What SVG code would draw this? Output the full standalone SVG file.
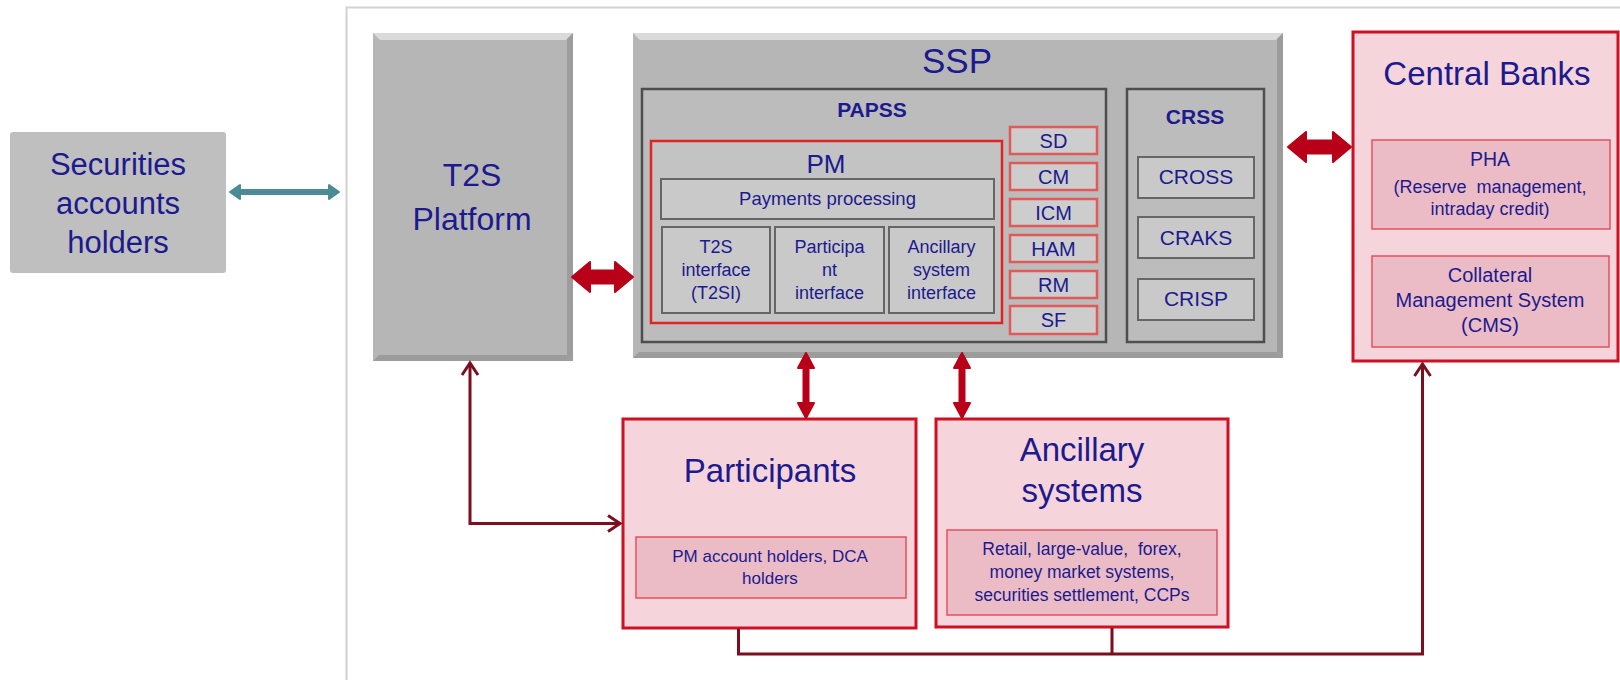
<svg xmlns="http://www.w3.org/2000/svg" width="1620" height="680" viewBox="0 0 1620 680">
<style>
  text { font-family: "Liberation Sans", Arial, sans-serif; fill: #1c1a8e; text-anchor: middle; }
  .b { font-weight: bold; }
  .pre { white-space: pre; }
  .gray { fill: #b6b6b6; }
  .hl { fill: #dadada; }
  .sh { fill: #9c9c9c; }
  .area { fill: #bcbcbc; stroke: #4e4e4e; stroke-width: 2.5; }
  .sub { fill: #c9c9c9; stroke: #666666; stroke-width: 2; }
  .pmbox { fill: #c3c3c3; stroke: #e42222; stroke-width: 2.5; }
  .mod { fill: #cdcdcd; stroke: #e05a5a; stroke-width: 2.5; }
  .pink { fill: #f5d5db; stroke: #cf0f22; stroke-width: 3; }
  .pinkin { fill: #ebbcc6; stroke: #e4505e; stroke-width: 1.5; }
  .conn { fill: none; stroke: #7a0f1f; stroke-width: 3; }
  .block { fill: #b80018; stroke: #b80018; stroke-width: 2; stroke-linejoin: round; }
  .teal { fill: #4a8b96; stroke: #4a8b96; stroke-width: 2; stroke-linejoin: round; }
</style>
<defs>
  <marker id="chev" viewBox="0 0 20 20" markerWidth="20" markerHeight="20" refX="17" refY="10" orient="auto-start-reverse" markerUnits="userSpaceOnUse">
    <path d="M5,2 L17,10 L5,18" fill="none" stroke="#7a0f1f" stroke-width="3"/>
  </marker>
</defs>

<rect x="0" y="0" width="1620" height="680" fill="#ffffff"/>
<!-- picture frame -->
<rect x="346.5" y="7.5" width="1300" height="700" fill="#ffffff" stroke="#d2d2d2" stroke-width="2"/>

<g id="securities">
  <rect x="10" y="132" width="216" height="141" rx="3" fill="#bfbfbf"/>
  <text x="118" y="175" font-size="31" fill="#1f1a9e">Securities</text>
  <text x="118" y="214" font-size="31" fill="#1f1a9e">accounts</text>
  <text x="118" y="253" font-size="31" fill="#1f1a9e">holders</text>
</g>

<g id="t2s">
  <rect class="gray" x="373" y="33" width="200" height="328"/>
  <polygon class="hl" points="373,33 573,33 566,40 380,40"/>
  <polygon class="sh" points="573,33 573,361 567,355 567,39"/>
  <polygon class="sh" points="373,361 573,361 567,355 379,355"/>
  <text x="472" y="186" font-size="32">T2S</text>
  <text x="472" y="230" font-size="32">Platform</text>
</g>

<g id="ssp">
  <rect class="gray" x="633" y="33" width="650" height="325"/>
  <polygon class="hl" points="633,33 1283,33 1276,40 640,40"/>
  <polygon class="sh" points="1283,33 1283,358 1277,352 1277,39"/>
  <polygon class="sh" points="633,358 1283,358 1277,352 639,352"/>
  <text x="957" y="73" font-size="35">SSP</text>
</g>

<g id="papss">
  <rect class="area" x="642" y="89" width="464" height="253"/>
  <text class="b" x="872" y="117" font-size="21">PAPSS</text>
</g>

<g id="pm">
  <rect class="pmbox" x="651" y="141" width="351" height="182"/>
  <text x="826" y="173" font-size="26">PM</text>
</g>

<g id="payments-processing">
  <rect class="sub" x="661" y="179" width="333" height="40"/>
  <text x="827.5" y="205" font-size="18.5">Payments processing</text>
</g>

<g id="t2si">
  <rect class="sub" x="662" y="227" width="108" height="86"/>
  <text x="716" y="253" font-size="18">T2S</text>
  <text x="716" y="276" font-size="18">interface</text>
  <text x="716" y="298.5" font-size="18">(T2SI)</text>
</g>

<g id="participant-interface">
  <rect class="sub" x="775" y="227" width="109" height="86"/>
  <text x="829.5" y="253" font-size="18">Participa</text>
  <text x="829.5" y="276" font-size="18">nt</text>
  <text x="829.5" y="298.5" font-size="18">interface</text>
</g>

<g id="asi">
  <rect class="sub" x="889" y="227" width="105" height="86"/>
  <text x="941.5" y="253" font-size="18">Ancillary</text>
  <text x="941.5" y="276" font-size="18">system</text>
  <text x="941.5" y="298.5" font-size="18">interface</text>
</g>

<g id="sd"><rect class="mod" x="1010" y="127" width="87" height="27"/><text x="1053.5" y="148" font-size="20">SD</text></g>
<g id="cm"><rect class="mod" x="1010" y="163" width="87" height="27"/><text x="1053.5" y="184" font-size="20">CM</text></g>
<g id="icm"><rect class="mod" x="1010" y="199" width="87" height="27"/><text x="1053.5" y="220" font-size="20">ICM</text></g>
<g id="ham"><rect class="mod" x="1010" y="235" width="87" height="27"/><text x="1053.5" y="256" font-size="20">HAM</text></g>
<g id="rm"><rect class="mod" x="1010" y="271" width="87" height="27"/><text x="1053.5" y="292" font-size="20">RM</text></g>
<g id="sf"><rect class="mod" x="1010" y="306" width="87" height="28"/><text x="1053.5" y="327" font-size="20">SF</text></g>

<g id="crss">
  <rect class="area" x="1127" y="89" width="137" height="253"/>
  <text class="b" x="1195" y="124" font-size="21">CRSS</text>
</g>
<g id="cross"><rect class="sub" x="1138" y="157" width="116" height="41"/><text x="1196" y="184" font-size="21">CROSS</text></g>
<g id="craks"><rect class="sub" x="1138" y="217" width="116" height="41"/><text x="1196" y="245" font-size="21">CRAKS</text></g>
<g id="crisp"><rect class="sub" x="1138" y="279" width="116" height="41"/><text x="1196" y="306" font-size="21">CRISP</text></g>

<g id="central-banks">
  <rect class="pink" x="1353" y="32" width="265" height="329"/>
  <text x="1487" y="85" font-size="33">Central Banks</text>
</g>
<g id="pha">
  <rect class="pinkin" x="1372" y="140" width="238" height="89"/>
  <text x="1490" y="166" font-size="19.5">PHA</text>
  <text class="pre" x="1490" y="192.5" font-size="18">(Reserve  management,</text>
  <text x="1490" y="215" font-size="18">intraday credit)</text>
</g>
<g id="cms">
  <rect class="pinkin" x="1372" y="256" width="237" height="91"/>
  <text x="1490" y="282" font-size="20">Collateral</text>
  <text x="1490" y="307" font-size="20">Management System</text>
  <text x="1490" y="332" font-size="20">(CMS)</text>
</g>

<g id="participants">
  <rect class="pink" x="623" y="419" width="293" height="209"/>
  <text x="770" y="482" font-size="33">Participants</text>
</g>
<g id="pm-account-holders">
  <rect class="pinkin" x="636" y="537" width="270" height="61"/>
  <text x="770" y="562" font-size="17">PM account holders, DCA</text>
  <text x="770" y="583.5" font-size="17">holders</text>
</g>

<g id="ancillary-systems">
  <rect class="pink" x="936" y="419" width="292" height="208"/>
  <text x="1082" y="461" font-size="33">Ancillary</text>
  <text x="1082" y="502" font-size="33">systems</text>
</g>
<g id="ancillary-detail">
  <rect class="pinkin" x="947" y="530" width="270" height="85"/>
  <text class="pre" x="1082" y="555" font-size="17.5">Retail, large-value,  forex,</text>
  <text x="1082" y="577.5" font-size="17.5">money market systems,</text>
  <text x="1082" y="601" font-size="17.5">securities settlement, CCPs</text>
</g>

<g id="connectors">
  <!-- securities holders <-> T2S -->
  <line x1="238" y1="192" x2="331" y2="192" stroke="#4a8b96" stroke-width="6"/>
  <polygon class="teal" points="230,192 240,185 240,199"/>
  <polygon class="teal" points="339,192 329,185 329,199"/>
  <!-- T2S <-> SSP -->
  <polygon class="block" points="572,277 590,262 590,270.5 615,270.5 615,262 633,277 615,292 615,283.5 590,283.5 590,292"/>
  <!-- SSP <-> Central Banks -->
  <polygon class="block" points="1288,147 1306,132 1306,140.5 1333,140.5 1333,132 1351,147 1333,162 1333,153.5 1306,153.5 1306,162"/>
  <!-- SSP <-> Participants -->
  <polygon class="block" points="806,353 814,368 808.5,368 808.5,403 814,403 806,418 798,403 803.5,403 803.5,368 798,368"/>
  <!-- SSP <-> Ancillary systems -->
  <polygon class="block" points="962,353 970,368 964.5,368 964.5,403 970,403 962,418 954,403 959.5,403 959.5,368 954,368"/>
  <!-- T2S <-> Participants -->
  <path class="conn" d="M470,363 V523.5 H620" marker-start="url(#chev)" marker-end="url(#chev)"/>
  <!-- Participants & Ancillary -> Central Banks -->
  <path class="conn" d="M738.5,629 V654 H1422.5 V364" marker-end="url(#chev)"/>
  <path class="conn" d="M1112,628 V654"/>
</g>
</svg>
